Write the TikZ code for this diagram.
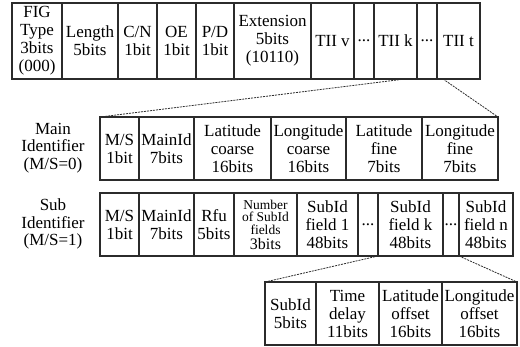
\documentclass[tikz,border=0pt]{standalone}
\usepackage{fontspec}
\setmainfont{Liberation Serif}
\usetikzlibrary{calc}
\definecolor{Frame}{HTML}{2B2B2B}

\begin{document}
\begin{tikzpicture}[x=1pt, y=1pt,
    field/.style={draw=Frame, line width=1.1pt, anchor=north west, inner sep=0pt, outer sep=0pt, align=center, font=\fontsize{17}{18}\selectfont},
    expand/.style={Frame, line width=0.8pt, dash pattern=on 2pt off 1pt},
    rowlabel/.style={align=center, font=\fontsize{17}{17.5}\selectfont}]
    \useasboundingbox (0,0) rectangle (520,-347);

    % FIG header
    \node[field, minimum width=50, minimum height=76] (figtype) at (12,-3) {FIG\\Type\\3bits\\(000)};
    \node[field, minimum width=56, minimum height=76] (length) at (62,-3) {Length\\5bits};
    \node[field, minimum width=39, minimum height=76] (cn) at (118,-3) {C/N\\1bit};
    \node[field, minimum width=39, minimum height=76] (oe) at (157,-3) {OE\\1bit};
    \node[field, minimum width=38, minimum height=76] (pd) at (196,-3) {P/D\\1bit};
    \node[field, minimum width=77, minimum height=76] (ext) at (234,-3) {Extension\\5bits\\(10110)};
    \node[field, minimum width=43, minimum height=76] (tiiv) at (311,-3) {TII v};
    \node[field, minimum width=20, minimum height=76] (dotsa) at (354,-3) {...};
    \node[field, minimum width=43, minimum height=76] (tiik) at (374,-3) {TII k};
    \node[field, minimum width=20, minimum height=76] (dotsb) at (417,-3) {...};
    \node[field, minimum width=43, minimum height=76] (tiit) at (437,-3) {TII t};

    % Main identifier (M/S=0)
    \node[rowlabel] (mainlbl) at (53,-148) {Main\\Identifier\\(M/S=0)};
    \node[field, minimum width=39, minimum height=63] (mainms) at (100,-117) {M/S\\1bit};
    \node[field, minimum width=55, minimum height=63] (mainid) at (139,-117) {MainId\\7bits};
    \node[field, minimum width=77, minimum height=63] (latc) at (194,-117) {Latitude\\coarse\\16bits};
    \node[field, minimum width=75, minimum height=63] (lonc) at (271,-117) {Longitude\\coarse\\16bits};
    \node[field, minimum width=76, minimum height=63] (latf) at (346,-117) {Latitude\\fine\\7bits};
    \node[field, minimum width=76, minimum height=63] (lonf) at (422,-117) {Longitude\\fine\\7bits};

    % Sub identifier (M/S=1)
    \node[rowlabel] (sublbl) at (53,-224) {Sub\\Identifier\\(M/S=1)};
    \node[field, minimum width=39, minimum height=63] (subms) at (100,-193) {M/S\\1bit};
    \node[field, minimum width=55, minimum height=63] (submain) at (139,-193) {MainId\\7bits};
    \node[field, minimum width=40, minimum height=63] (rfu) at (194,-193) {Rfu\\5bits};
    \node[field, minimum width=63, minimum height=63, font=\fontsize{13.5}{12.5}\selectfont] (nsub) at (234,-193) {Number\\of SubId\\fields\\[2.5pt]{\fontsize{16}{12.5}\selectfont 3bits}};
    \node[field, minimum width=61, minimum height=63] (subf1) at (297,-193) {SubId\\field 1\\48bits};
    \node[field, minimum width=20, minimum height=63] (dotsc) at (358,-193) {...};
    \node[field, minimum width=65, minimum height=63] (subfk) at (378,-193) {SubId\\field k\\48bits};
    \node[field, minimum width=16, minimum height=63] (dotsd) at (443,-193) {...};
    \node[field, minimum width=54, minimum height=63] (subfn) at (459,-193) {SubId\\field n\\48bits};

    % SubId field contents
    \node[field, minimum width=51, minimum height=63] (sid) at (265,-282) {SubId\\5bits};
    \node[field, minimum width=63, minimum height=63] (tdelay) at (316,-282) {Time\\delay\\11bits};
    \node[field, minimum width=63, minimum height=63] (lato) at (379,-282) {Latitude\\offset\\16bits};
    \node[field, minimum width=75, minimum height=63] (lono) at (442,-282) {Longitude\\offset\\16bits};

    % expansion lines
    \draw[expand] ([xshift=-12pt]tiik.south east) -- (mainms.north west);
    \draw[expand] ([xshift=6pt]tiit.south west) -- (lonf.north east);
    \draw[expand] (subfk.south west) -- (sid.north west);
    \draw[expand] (dotsd.south east) -- (lono.north east);

\end{tikzpicture}
\end{document}
